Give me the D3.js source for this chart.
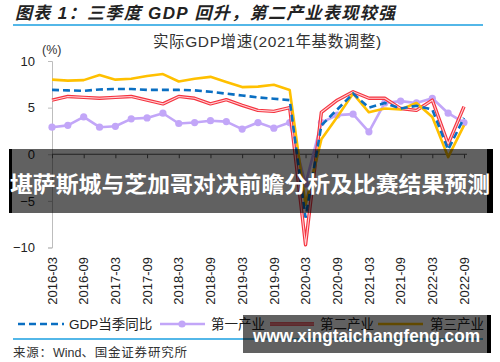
<!DOCTYPE html>
<html>
<head>
<meta charset="utf-8">
<script src="https://cdn.jsdelivr.net/npm/d3@7"></script>
<style>
  html, body { margin: 0; padding: 0; background: #fff; }
  svg { display: block; }
  text { font-family: 'Liberation Sans', Arial, 'Noto Sans CJK SC', sans-serif; }
</style>
</head>
<body>
<svg id="chart" width="500" height="362"></svg>
<script>
const quarters = ["2016-03","2016-06","2016-09","2016-12","2017-03","2017-06","2017-09","2017-12",
  "2018-03","2018-06","2018-09","2018-12","2019-03","2019-06","2019-09","2019-12",
  "2020-03","2020-06","2020-09","2020-12","2021-03","2021-06","2021-09","2021-12",
  "2022-03","2022-06","2022-09"];
const gdp       = [6.9,6.85,6.8,6.95, 7.0,7.0,6.9,6.9, 6.9,6.85,6.7,6.5, 6.3,6.1,5.95,5.8, -6.8,3.1,4.8,6.5, 5.0,5.5,4.9,5.2, 4.8,0.5,3.9];
const primary   = [2.9,3.1,4.0,2.9, 3.0,3.8,3.9,4.4, 3.3,3.4,3.6,3.5, 2.7,3.4,2.8,3.4, -3.2,3.4,4.2,4.3, 2.4,5.5,5.7,5.5, 6.0,4.4,3.4];
const secondary = [5.8,6.2,6.1,6.0, 6.1,6.2,5.8,5.4, 6.2,6.0,5.4,5.85, 5.25,4.7,4.6,5.0, -9.7,4.5,5.8,6.7, 6.0,6.0,4.9,4.7, 5.8,1.1,5.1];
const tertiary  = [8.0,7.9,7.95,8.5, 8.0,8.1,8.4,8.6, 7.8,8.1,8.3,7.75, 7.2,7.25,7.45,6.9, -5.4,1.6,4.0,6.5, 4.5,4.9,4.8,5.5, 4.0,-0.3,3.1];
const yTicks = [-10,-5,0,5,10];
const seriesNames = ["GDP当季同比","第一产业","第二产业","第三产业"];
const titleText = "图表 1：三季度 GDP 回升，第二产业表现较强";
const subtitleText = "实际GDP增速(2021年基数调整)";
const sourceParts = ["来源：", "Wind", "、国金证券研究所"];
const bannerText = "堪萨斯城与芝加哥对决前瞻分析及比赛结果预测";
const siteText = "www.xingtaichangfeng.com";

const svg = d3.select("#chart");

const x = d3.scalePoint().domain(quarters).range([52, 464]).padding(0);
const y = d3.scaleLinear().domain([-10, 10]).range([247.5, 61]);

// Title
svg.append("text").attr("x", 15).attr("y", 18.5)
  .attr("font-size", 17).attr("font-weight", "bold").attr("font-style", "italic")
  .attr("fill", "#222").attr("textLength", 380).attr("lengthAdjust", "spacing")
  .text(titleText);
svg.append("line").attr("x1", 13).attr("x2", 483).attr("y1", 25).attr("y2", 25)
  .attr("stroke", "#1A9FE0").attr("stroke-width", 1.5);

// Subtitle
svg.append("text").attr("x", 153).attr("y", 47)
  .attr("font-size", 15.5).attr("fill", "#333").attr("letter-spacing", 0.6)
  .text(subtitleText);
svg.append("text").attr("x", 42).attr("y", 54).attr("font-size", 12.5).attr("fill", "#333").text("(%)");

// Y axis
const yAxis = svg.append("g").attr("transform", "translate(52,0)")
  .call(d3.axisLeft(y).tickValues(yTicks).tickSize(4).tickPadding(13).tickFormat(d3.format("d")));
yAxis.select(".domain").attr("stroke", "#BDBDBD");
yAxis.selectAll(".tick line").attr("stroke", "#BDBDBD");
yAxis.selectAll(".tick text").attr("font-size", 13).attr("fill", "#222")
  .style("font-family", "'Liberation Sans', Arial, sans-serif");

// X axis at zero
const tickQ = quarters.filter((d, i) => i % 2 === 0);
const xAxis = svg.append("g").attr("transform", `translate(0,${y(0)})`)
  .call(d3.axisBottom(x).tickValues(tickQ).tickSize(4).tickFormat(""));
xAxis.select(".domain").attr("stroke", "#595959").attr("d", `M52,0H467`);
xAxis.selectAll(".tick line").attr("stroke", "#595959");

// X labels rotated at bottom
svg.append("g").selectAll("text").data(tickQ).join("text")
  .attr("transform", d => `translate(${x(d)},257) rotate(-90)`)
  .attr("text-anchor", "end").attr("dy", "0.36em")
  .attr("font-size", 13).attr("fill", "#222")
  .text(d => d);

// Lines
const line = d3.line().x((d, i) => x(quarters[i])).y(d => y(d));
const g = svg.append("g");
g.append("path").datum(primary).attr("d", line).attr("fill", "none")
  .attr("stroke", "#C2A6F8").attr("stroke-width", 2.6).attr("stroke-linejoin", "round");
g.selectAll("circle.p").data(primary).join("circle").attr("class", "p")
  .attr("cx", (d, i) => x(quarters[i])).attr("cy", d => y(d)).attr("r", 3.6).attr("fill", "#C2A6F8");
g.append("path").datum(secondary).attr("d", line).attr("fill", "none")
  .attr("stroke", "#F5333F").attr("stroke-width", 3.4).attr("stroke-linejoin", "round");
g.append("path").datum(secondary).attr("d", line).attr("fill", "none")
  .attr("stroke", "#FFD0D4").attr("stroke-width", 1.1).attr("stroke-linejoin", "round");
g.append("path").datum(tertiary).attr("d", line).attr("fill", "none")
  .attr("stroke", "#FFC000").attr("stroke-width", 2.6).attr("stroke-linejoin", "round");
g.append("path").datum(gdp).attr("d", line).attr("fill", "none")
  .attr("stroke", "#0A6FC2").attr("stroke-width", 2.6).attr("stroke-dasharray", "7,4");

// Legend
const ly = 324;
const lg = svg.append("g");
lg.append("line").attr("x1", 18).attr("x2", 64).attr("y1", ly).attr("y2", ly)
  .attr("stroke", "#0A6FC2").attr("stroke-width", 2.6).attr("stroke-dasharray", "7,4");
lg.append("text").attr("x", 69).attr("y", ly + 5).attr("font-size", 13.5).attr("fill", "#222")
  .text(seriesNames[0]);
lg.append("line").attr("x1", 160).attr("x2", 205).attr("y1", ly).attr("y2", ly)
  .attr("stroke", "#C2A6F8").attr("stroke-width", 2.6);
lg.append("circle").attr("cx", 182).attr("cy", ly).attr("r", 3.6).attr("fill", "#C2A6F8");
lg.append("text").attr("x", 211).attr("y", ly + 5).attr("font-size", 13.5).attr("fill", "#222")
  .text(seriesNames[1]);
lg.append("line").attr("x1", 270).attr("x2", 314).attr("y1", ly).attr("y2", ly)
  .attr("stroke", "#F5333F").attr("stroke-width", 3.4);
lg.append("line").attr("x1", 270).attr("x2", 314).attr("y1", ly).attr("y2", ly)
  .attr("stroke", "#FFD0D4").attr("stroke-width", 1.1);
lg.append("text").attr("x", 320).attr("y", ly + 5).attr("font-size", 13.5).attr("fill", "#222")
  .text(seriesNames[2]);
lg.append("line").attr("x1", 378).attr("x2", 423).attr("y1", ly).attr("y2", ly)
  .attr("stroke", "#FFC000").attr("stroke-width", 2.6);
lg.append("text").attr("x", 430).attr("y", ly + 5).attr("font-size", 13.5).attr("fill", "#222")
  .text(seriesNames[3]);

// Bottom rule & source
svg.append("line").attr("x1", 13).attr("x2", 483).attr("y1", 339).attr("y2", 339)
  .attr("stroke", "#1A9FE0").attr("stroke-width", 1.5);
const src = svg.append("text").attr("x", 13).attr("y", 357).attr("font-size", 12.5).attr("fill", "#333");
src.append("tspan").attr("letter-spacing", 0.8).text(sourceParts[0]);
src.append("tspan").text(sourceParts[1]);
src.append("tspan").attr("letter-spacing", 0.8).text(sourceParts[2]);

// Overlay banner
const ov = svg.append("g");
ov.append("rect").attr("x", 9).attr("y", 149).attr("width", 484).attr("height", 64)
  .attr("fill", "#000").attr("fill-opacity", 0.62);
ov.append("rect").attr("x", 9).attr("y", 149).attr("width", 3).attr("height", 64).attr("fill", "#000");
ov.append("rect").attr("x", 487).attr("y", 149).attr("width", 6).attr("height", 64).attr("fill", "#000");
ov.append("text").attr("x", 10).attr("y", 191.5).attr("font-size", 22).attr("font-weight", "bold")
  .attr("fill", "#fff").attr("textLength", 480).attr("lengthAdjust", "spacingAndGlyphs")
  .style("font-family", "'Noto Sans CJK SC', sans-serif").text(bannerText);

// Site watermark
ov.append("rect").attr("x", 243).attr("y", 315).attr("width", 247).attr("height", 38)
  .attr("fill", "#000").attr("fill-opacity", 0.62);
ov.append("rect").attr("x", 487).attr("y", 315).attr("width", 4).attr("height", 38).attr("fill", "#000");
ov.append("text").attr("x", 253).attr("y", 342).attr("font-size", 18).attr("font-weight", "bold")
  .attr("fill", "#fff").attr("textLength", 227).attr("lengthAdjust", "spacingAndGlyphs")
  .text(siteText);
</script>
</body>
</html>
